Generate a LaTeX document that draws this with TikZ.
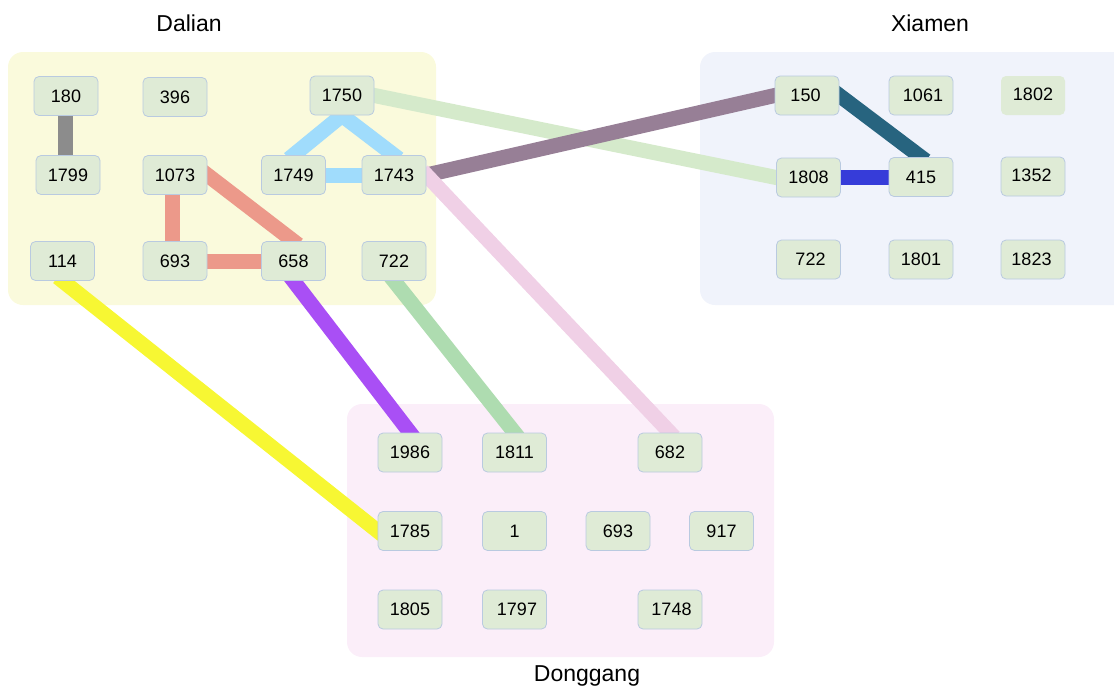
\documentclass[tikz,border=0pt]{standalone}
\usepackage{fontspec}
\setmainfont{Liberation Sans}
\pgfdeclarelayer{bg}
\pgfdeclarelayer{edges}
\pgfsetlayers{bg,edges,main}
\definecolor{nodefill}{RGB}{223,235,214}
\definecolor{nodeline}{RGB}{185,202,224}
\definecolor{dalianbg}{RGB}{250,250,220}
\definecolor{xiamenbg}{RGB}{240,243,251}
\definecolor{donggangbg}{RGB}{251,238,249}
\definecolor{egray}{HTML}{8C8C8C}
\definecolor{eltblue}{HTML}{A0DCFC}
\definecolor{esalmon}{HTML}{EC998A}
\definecolor{eltgreen}{HTML}{D5EACB}
\definecolor{emauve}{HTML}{977F96}
\definecolor{eteal}{HTML}{27647F}
\definecolor{eblue}{HTML}{363CD9}
\definecolor{epink}{HTML}{F0D0E6}
\definecolor{epurple}{HTML}{A94FF5}
\definecolor{egreen}{HTML}{AEDCB0}
\definecolor{eyellow}{HTML}{F7F733}
\tikzset{
  nd/.style={rectangle, rounded corners=5pt, fill=nodefill, draw=nodeline, line width=0.8pt,
    minimum width=64pt, minimum height=39pt, inner sep=0pt,
    font=\fontsize{18}{20}\selectfont},
  ndplain/.style={nd, draw=none},
  grouptitle/.style={font=\fontsize{23}{26}\selectfont, inner sep=0pt},
  grp/.style={rounded corners=15pt},
  edge/.style={line width=15pt, shorten <=-6pt, shorten >=-6pt}
}
\begin{document}
\begin{tikzpicture}[x=1pt,y=-1pt]
\useasboundingbox (0,0) rectangle (1114,688);
\clip (0,0) rectangle (1114,688);
% groups
\begin{pgfonlayer}{bg}
\fill[grp, dalianbg] (8,52) rectangle (436,305);
\fill[grp, xiamenbg] (700,52) rectangle (1140,305);
\fill[grp, donggangbg] (347,404) rectangle (774,657);
\end{pgfonlayer}
\node[grouptitle] (tDalian) at (189,23) {Dalian};
\node[grouptitle] (tXiamen) at (930,23) {Xiamen};
\node[grouptitle] (tDonggang) at (587,676) {Donggang};
% Dalian nodes
\node[nd] (d180) at (66,96) {180};
\node[nd] (d396) at (175,97) {396};
\node[nd] (d1750) at (342,95.5) {1750};
\node[nd] (d1799) at (68,175) {\raisebox{-3pt}{1799}};
\node[nd] (d1073) at (175,175) {1073};
\node[nd] (d1749) at (293.5,175) {1749};
\node[nd] (d1743) at (394,175) {1743};
\node[nd] (d114) at (62.5,261) {114};
\node[nd] (d693) at (175,261) {693};
\node[nd] (d658) at (293.5,261) {658};
\node[nd] (d722) at (394,261) {722};
% Xiamen nodes
\node[nd] (x150) at (807,95.5) {\hspace*{-3pt}150};
\node[nd] (x1061) at (921,95.5) {\hspace*{4pt}1061};
\node[ndplain] (x1802) at (1033,95.5) {\raisebox{2pt}{1802}};
\node[nd] (x1808) at (808.5,177.5) {1808};
\node[nd] (x415) at (921,177) {\raisebox{-2pt}{415}};
\node[nd] (x1352) at (1033,176.5) {\raisebox{2pt}{1352}\hspace*{3pt}};
\node[nd] (x722) at (808.5,259.5) {\hspace*{4pt}722};
\node[nd] (x1801) at (921,259.5) {1801};
\node[nd] (x1823) at (1033,259.5) {1823\hspace*{3pt}};
% Donggang nodes
\node[nd] (g1986) at (410,452.5) {1986};
\node[nd] (g1811) at (514.5,452.5) {1811};
\node[nd] (g682) at (670,452.5) {682};
\node[nd] (g1785) at (410,531) {1785};
\node[nd] (g1) at (514.5,531) {1};
\node[nd] (g693) at (618,531) {693};
\node[nd] (g917) at (721.5,531) {917};
\node[nd] (g1805) at (410,609.5) {1805};
\node[nd] (g1797) at (514.5,609.5) {\hspace*{5pt}1797};
\node[nd] (g1748) at (670,609.5) {\hspace*{3pt}1748};
% edges
\begin{pgfonlayer}{edges}
\draw[edge, egray] ([xshift=-1pt]d180.south) -- ([xshift=-1pt]d180.south |- d1799.north);
\draw[edge, eltblue] (d1750.south) -- (d1749.north);
\draw[edge, eltblue] (d1750.south) -- (d1743.north);
\draw[edge, eltblue] (d1749.east) -- (d1743.west);
\draw[edge, esalmon] ([xshift=-3pt]d1073.south) -- ([xshift=-3pt]d1073.south |- d693.north);
\draw[edge, esalmon] (d693.east) -- (d658.west);
\draw[edge, esalmon] (d1073.east) -- (d658.north);
\draw[edge, eltgreen] (d1750.east) -- (x1808.west);
\draw[edge, emauve] (d1743.east) -- (x150.west);
\draw[edge, eteal] (x150.east) -- (x415.north);
\draw[edge, eblue] (x1808.east) -- (x1808.east -| x415.west);
\draw[edge, epink] (d1743.east) -- (g682.north);
\draw[edge, epurple] (d658.south) -- (g1986.north);
\draw[edge, egreen] (d722.south) -- (g1811.north);
\draw[edge, eyellow] (d114.south) -- (g1785.west);
\end{pgfonlayer}
\end{tikzpicture}
\end{document}
